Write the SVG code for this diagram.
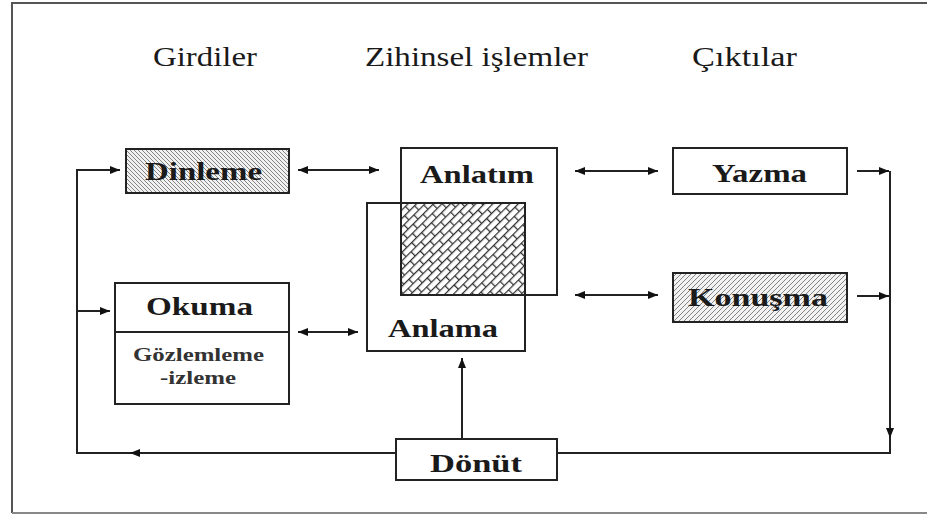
<svg xmlns="http://www.w3.org/2000/svg" width="927" height="518" viewBox="0 0 927 518">
<defs>
<style>
.box{fill:#fff;stroke:#222;stroke-width:2}
.ln{fill:none;stroke:#222;stroke-width:2}
text{font-family:"Liberation Serif","DejaVu Serif","Times New Roman",serif;fill:#1a1a1a}
.title{font-size:27px}
.lbl{font-size:25px;font-weight:bold}
.sub{font-size:19px;font-weight:bold;fill:#333}
</style>
<pattern id="hatchB" width="4" height="4" patternUnits="userSpaceOnUse">
<rect width="4" height="4" fill="#f2f2f2"/>
<path d="M-1,-1 L5,5 M-1,3 L1,5 M3,-1 L5,1" stroke="#777" stroke-width="0.9"/>
</pattern>
<pattern id="hatchF" width="5" height="5" patternUnits="userSpaceOnUse">
<rect width="5" height="5" fill="#f2f2f2"/>
<path d="M-1,6 L6,-1 M-1,1 L1,-1 M4,6 L6,4" stroke="#777" stroke-width="0.9"/>
</pattern>
<pattern id="brick" width="14" height="12" patternUnits="userSpaceOnUse" patternTransform="rotate(-45)">
<rect width="14" height="12" fill="#fff"/>
<path d="M0,0.6 H14 M0,6.6 H14 M0.6,0 V6 M7.6,6 V12" stroke="#333" stroke-width="1.3"/>
</pattern>
<marker id="ah" viewBox="0 0 10 8" refX="10" refY="4" markerWidth="10" markerHeight="8" markerUnits="userSpaceOnUse" orient="auto-start-reverse">
<path d="M0,0 L10,4 L0,8 Z" fill="#111"/>
</marker>
</defs>
<rect width="927" height="518" fill="#fff"/>
<path d="M927,3 H12 V513" fill="none" stroke="#555" stroke-width="2"/>
<path d="M12,513 H927" fill="none" stroke="#888" stroke-width="2"/>

<g id="titles">
<text class="title" x="153" y="66" textLength="104" lengthAdjust="spacingAndGlyphs">Girdiler</text>
<text class="title" x="365" y="66" textLength="223" lengthAdjust="spacingAndGlyphs">Zihinsel işlemler</text>
<text class="title" x="692" y="66" textLength="105" lengthAdjust="spacingAndGlyphs">Çıktılar</text>
</g>

<g id="connectors">
<line class="ln" x1="298" y1="170" x2="379" y2="170" marker-start="url(#ah)" marker-end="url(#ah)"/>
<line class="ln" x1="298" y1="332" x2="358" y2="332" marker-start="url(#ah)" marker-end="url(#ah)"/>
<line class="ln" x1="575" y1="171" x2="658" y2="171" marker-start="url(#ah)" marker-end="url(#ah)"/>
<line class="ln" x1="575" y1="295" x2="658" y2="295" marker-start="url(#ah)" marker-end="url(#ah)"/>
<line class="ln" x1="857" y1="171" x2="889" y2="171" marker-end="url(#ah)"/>
<line class="ln" x1="857" y1="296" x2="889" y2="296" marker-end="url(#ah)"/>
<polyline class="ln" points="890,171 890,453 557,453"/>
<line class="ln" x1="890" y1="400" x2="890" y2="438" marker-end="url(#ah)"/>
<polyline class="ln" points="395,453 77,453 77,170 120,170" marker-end="url(#ah)"/>
<line class="ln" x1="200" y1="453" x2="130" y2="453" marker-end="url(#ah)"/>
<line class="ln" x1="77" y1="311" x2="110" y2="311" marker-end="url(#ah)"/>
<line class="ln" x1="462" y1="438" x2="462" y2="358" marker-end="url(#ah)"/>
</g>

<g id="dinleme">
<rect x="126" y="149" width="163" height="44" fill="url(#hatchB)" stroke="#222" stroke-width="2"/>
<text class="lbl" x="145" y="180" textLength="117" lengthAdjust="spacingAndGlyphs">Dinleme</text>
</g>

<g id="okuma">
<rect class="box" x="115" y="283" width="174" height="121"/>
<line class="ln" x1="115" y1="332" x2="289" y2="332"/>
<text class="lbl" x="146" y="315" textLength="107" lengthAdjust="spacingAndGlyphs">Okuma</text>
<text class="sub" x="133" y="361" textLength="131" lengthAdjust="spacingAndGlyphs">Gözlemleme</text>
<text class="sub" x="160" y="384" textLength="76" lengthAdjust="spacingAndGlyphs">-izleme</text>
</g>

<g id="anlatim">
<rect class="box" x="401" y="148" width="156" height="147"/>
<text class="lbl" x="420" y="183" textLength="114" lengthAdjust="spacingAndGlyphs">Anlatım</text>
</g>

<g id="anlama">
<path d="M401,203 H367 V351 H525 V295" class="ln"/>
<rect x="401" y="203" width="124" height="92" fill="url(#brick)" stroke="#222" stroke-width="2"/>
<text class="lbl" x="388" y="337" textLength="110" lengthAdjust="spacingAndGlyphs">Anlama</text>
</g>

<g id="yazma">
<rect class="box" x="673" y="148" width="174" height="46"/>
<text class="lbl" x="712" y="182" textLength="95" lengthAdjust="spacingAndGlyphs">Yazma</text>
</g>

<g id="konusma">
<rect x="673" y="273" width="174" height="49" fill="url(#hatchF)" stroke="#222" stroke-width="2"/>
<text class="lbl" x="688" y="306" textLength="140" lengthAdjust="spacingAndGlyphs">Konuşma</text>
</g>

<g id="donut">
<rect class="box" x="396" y="439" width="161" height="41"/>
<text class="lbl" x="430" y="472" textLength="92" lengthAdjust="spacingAndGlyphs">Dönüt</text>
</g>
</svg>
